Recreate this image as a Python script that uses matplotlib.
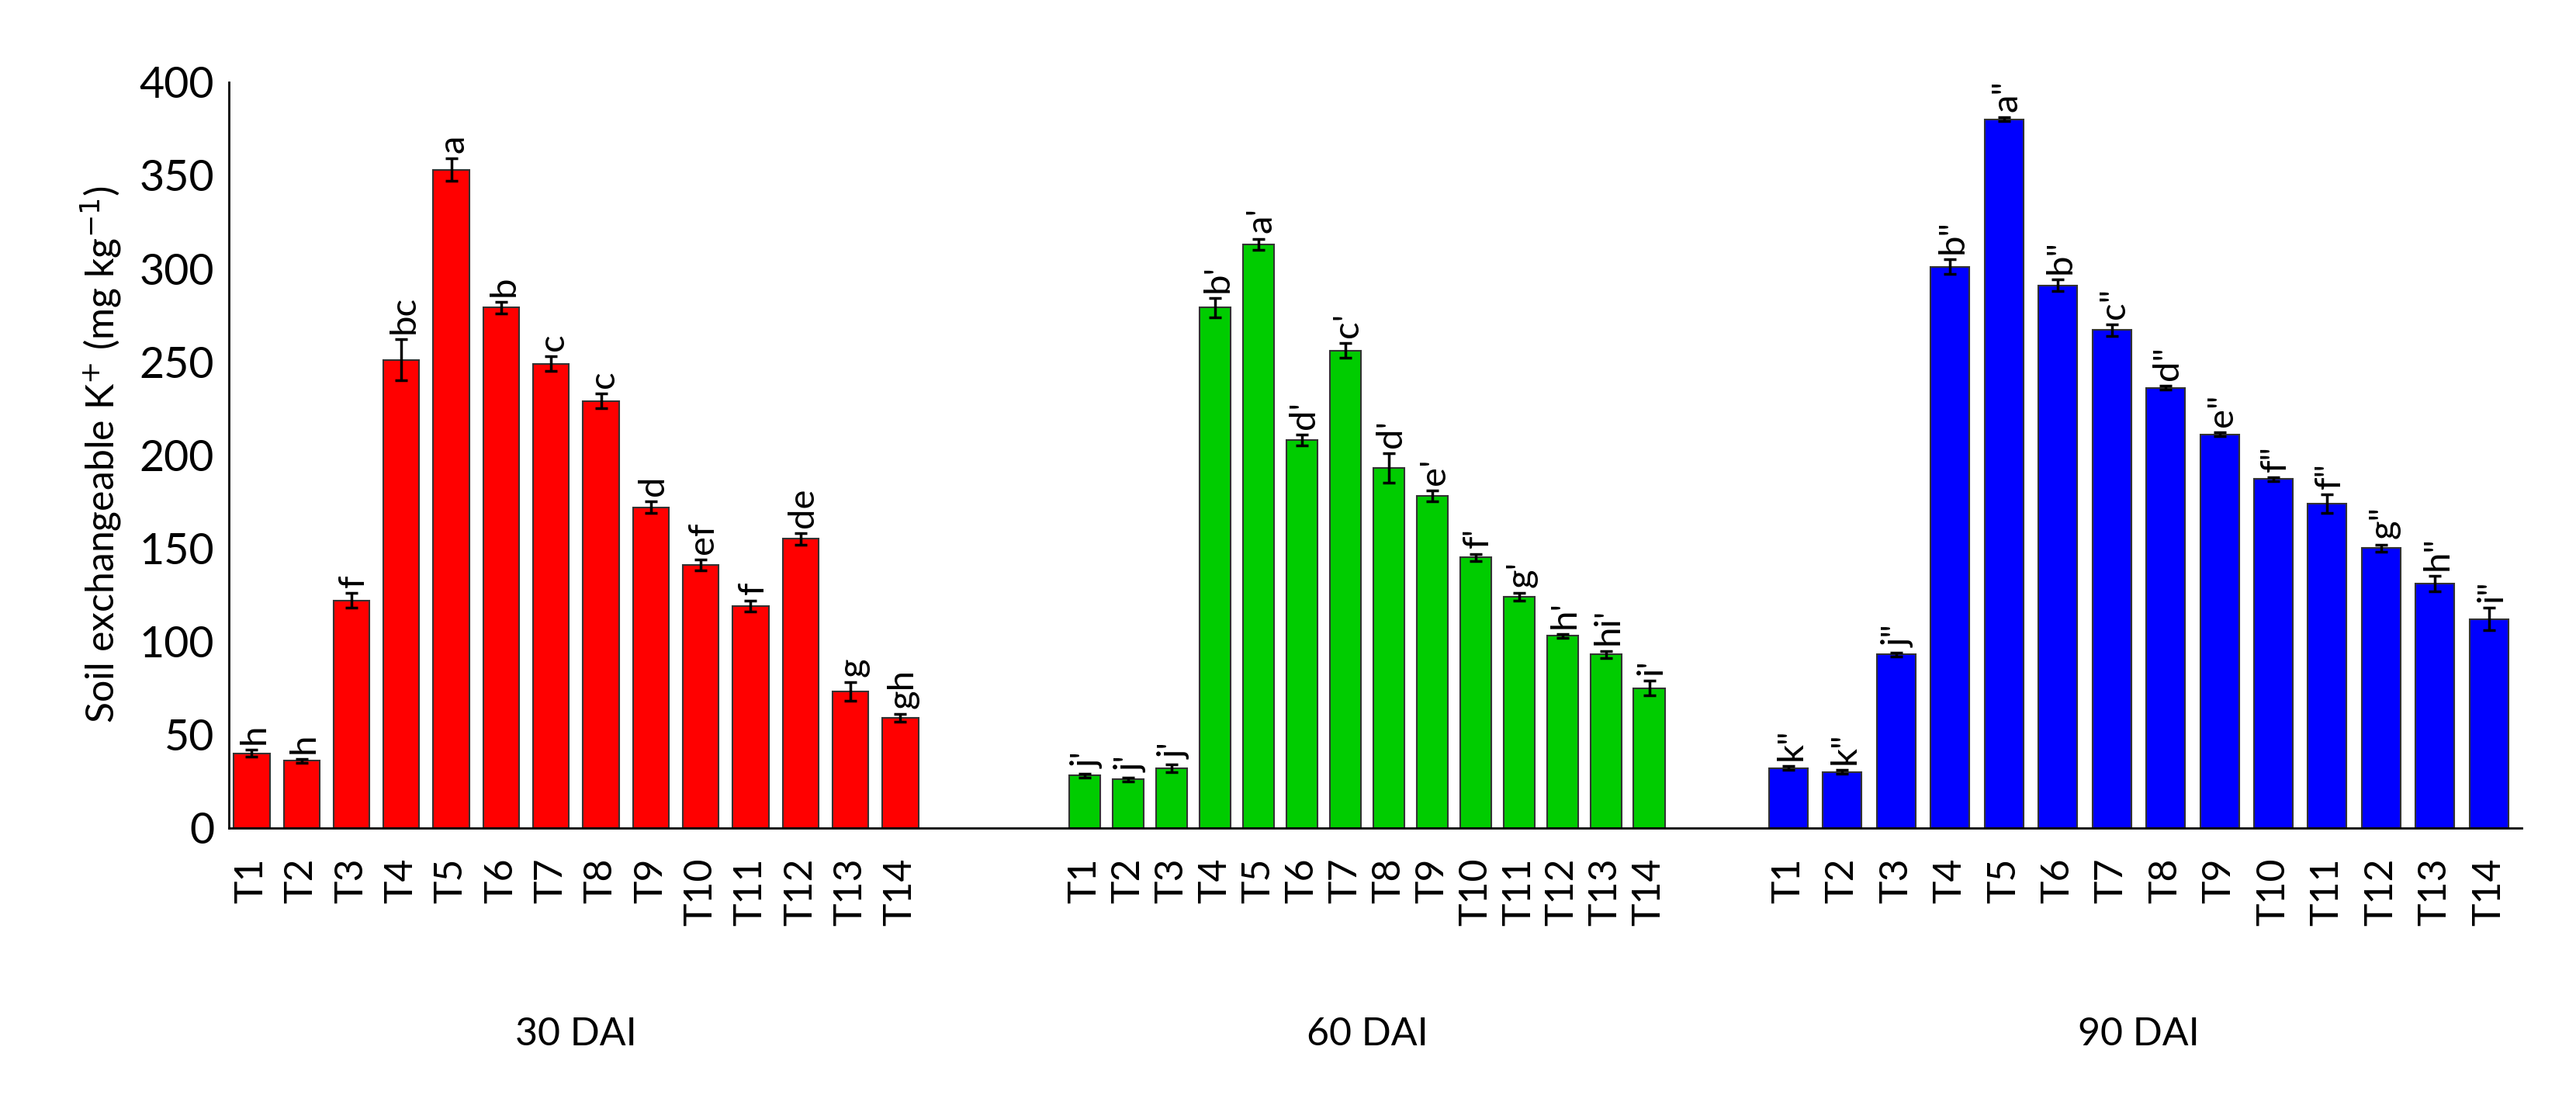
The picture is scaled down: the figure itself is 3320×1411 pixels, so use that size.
import matplotlib
matplotlib.use("Agg")
import matplotlib.pyplot as plt
import numpy as np

plt.rcParams['font.family'] = ['Lato', 'DejaVu Sans']

treatments = [f"T{i}" for i in range(1, 15)]
groups = ["30 DAI", "60 DAI", "90 DAI"]

k_30 = [40, 36, 122, 251, 353, 279, 249, 229, 172, 141, 119, 155, 73, 59]
err_30 = [2, 1, 4, 11, 6, 3, 4, 4, 3, 3, 3, 3, 5, 2]
let_30 = ["h", "h", "f", "bc", "a", "b", "c", "c", "d", "ef", "f", "de", "g", "gh"]

k_60 = [28, 26, 32, 279, 313, 208, 256, 193, 178, 145, 124, 103, 93, 75]
err_60 = [1, 1, 2, 5, 3, 3, 4, 8, 3, 2, 2, 1, 2, 4]
let_60 = ["j'", "j'", "j'", "b'", "a'", "d'", "c'", "d'", "e'", "f'", "g'", "h'", "hi'", "i'"]

k_90 = [32, 30, 93, 301, 380, 291, 267, 236, 211, 187, 174, 150, 131, 112]
err_90 = [1, 1, 1, 4, 1, 3, 3, 1, 1, 1, 5, 2, 4, 6]
let_90 = ['k"', 'k"', 'j"', 'b"', 'a"', 'b"', 'c"', 'd"', 'e"', 'f"', 'f"', 'g"', 'h"', 'i"']

values = [k_30, k_60, k_90]
errors = [err_30, err_60, err_90]
letters = [let_30, let_60, let_90]
colors = ["#FF0000", "#00CC00", "#0000FF"]

# layout: group start and slot spacing (x units)
starts = [0.0, 16.7, 30.8]
steps = [1.0, 0.87, 1.08]

fig = plt.figure(figsize=(33.2, 14.11), dpi=100)
ax = fig.add_axes([0.089, 0.244, 0.89, 0.681])
ax.set_xlim(-0.45, 45.5)
ax.set_ylim(0, 400)

FS = 36
for g in range(3):
    x = starts[g] + steps[g] * np.arange(len(treatments))
    ax.bar(x, values[g], width=0.72 * steps[g], color=colors[g],
           edgecolor="#333333", linewidth=1.5, zorder=2)
    ax.errorbar(x, values[g], yerr=errors[g], fmt="none", ecolor="black",
                elinewidth=2.5, capsize=6, capthick=2.5, zorder=3)
    for xi, v, e, lab in zip(x, values[g], errors[g], letters[g]):
        ax.text(xi + 0.05, v + e + 3, lab, rotation=90, ha="center", va="bottom",
                fontsize=FS - 2)
    for xi, t in zip(x, treatments):
        ax.text(xi, -16, t, rotation=90, ha="center", va="top", fontsize=FS)
    xc = (x[0] + x[-1]) / 2
    ax.annotate(groups[g], xy=(xc, 0), xycoords=("data", "figure fraction"),
                xytext=(xc, 0.055), textcoords=("data", "figure fraction"),
                ha="center", va="center", fontsize=FS)

ax.set_yticks(range(0, 401, 50))
ax.set_xticks([])
ax.tick_params(axis="y", length=0, labelsize=FS + 4, pad=14)
for s in ["top", "right"]:
    ax.spines[s].set_visible(False)
ax.spines["left"].set_linewidth(2)
ax.spines["bottom"].set_linewidth(2)
ax.set_ylabel("Soil exchangeable K$^{+}$ (mg kg$^{-1}$)", fontsize=FS, labelpad=14)

fig.savefig("out.png", dpi=100)
